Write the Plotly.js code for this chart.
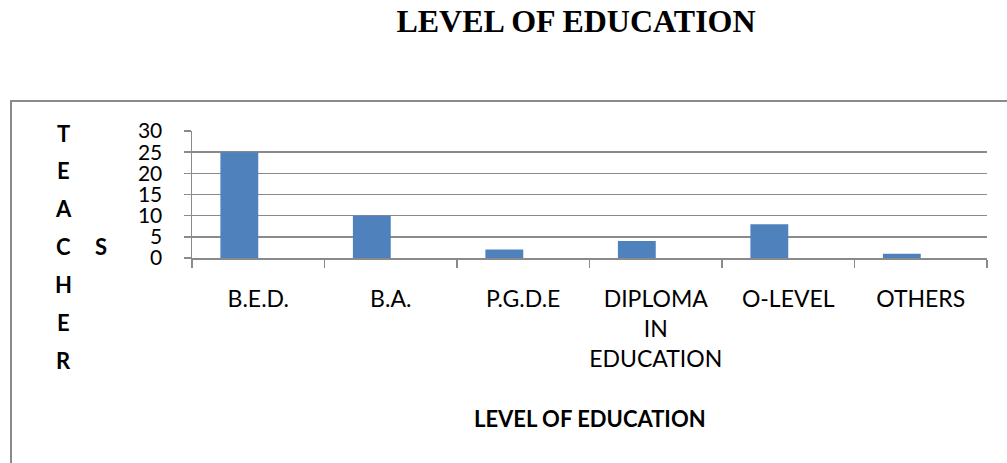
<!DOCTYPE html>
<html>
<head>
<meta charset="utf-8">
<script src="https://cdn.plot.ly/plotly-3.0.1.min.js"></script>
<style>html,body{margin:0;padding:0;background:#fff;}#chart{width:1007px;height:463px;}</style>
</head>
<body>
<div id="chart"></div>
<script>
var categories = ['B.E.D.', 'B.A.', 'P.G.D.E', 'DIPLOMA IN EDUCATION', 'O-LEVEL', 'OTHERS'];
var tickLabels = ['B.E.D.', 'B.A.', 'P.G.D.E', 'DIPLOMA<br>IN<br>EDUCATION', 'O-LEVEL', 'OTHERS'];
var teachers = [25, 10, 2, 4, 8, 1];
var yTicks = [0, 5, 10, 15, 20, 25, 30];
var chartTitle = 'LEVEL OF EDUCATION';
var xTitle = 'LEVEL OF EDUCATION';
var yLetters = ['T', 'E', 'A', 'C', 'H', 'E', 'R'];
var yLetterExtra = 'S';

var W = 1007, H = 463;
var L = 192, R = 20, T = 131, B = 205;
var pw = W - L - R, ph = H - T - B;
function px(x) { return (x - L) / pw; }
function py(y) { return (H - B - y) / ph; }

var gray = '#8a8a8a';
var letterFont = {family: 'Lato', size: 22, color: '#000', weight: 'bold'};
var annotations = [];
yLetters.forEach(function (ch, i) {
  annotations.push({
    xref: 'paper', yref: 'paper', x: px(63), y: py(133 + 37.9 * i),
    xanchor: 'center', yanchor: 'middle', showarrow: false, text: '<b>' + ch + '</b>',
    font: letterFont
  });
});
annotations.push({
  xref: 'paper', yref: 'paper', x: px(101), y: py(246),
  xanchor: 'center', yanchor: 'middle', showarrow: false, text: '<b>' + yLetterExtra + '</b>',
  font: letterFont
});
annotations.push({
  xref: 'paper', yref: 'paper', x: 0.5, y: py(418),
  xanchor: 'center', yanchor: 'middle', showarrow: false, text: '<b>' + xTitle + '</b>',
  font: {family: 'Lato', size: 22, color: '#000'}
});

var trace = {
  type: 'bar',
  x: categories,
  y: teachers,
  width: 1 / 3.5,
  offset: -1 / 3.5,
  marker: {color: '#4F81BD', line: {width: 0}},
  hoverinfo: 'x+y'
};

var layout = {
  width: W, height: H,
  margin: {l: L, r: R, t: T, b: B, pad: 0},
  paper_bgcolor: '#fff', plot_bgcolor: '#fff',
  showlegend: false,
  title: {
    text: '<b>' + chartTitle + '</b>', xref: 'container', yref: 'container',
    x: 576 / W, y: 1 - 21 / H, xanchor: 'center', yanchor: 'middle',
    font: {family: 'Liberation Serif', size: 32, color: '#000'}
  },
  xaxis: {
    type: 'category',
    tickvals: categories, ticktext: tickLabels,
    tickson: 'boundaries', tickangle: 0,
    ticks: 'outside', ticklen: 8, tickwidth: 1.5, tickcolor: gray,
    showline: true, linecolor: gray, linewidth: 1.5,
    showgrid: false, zeroline: false,
    tickfont: {family: 'Lato', size: 23, color: '#000'},
    ticklabelstandoff: 20,
    fixedrange: true
  },
  yaxis: {
    range: [0, 30],
    tickvals: yTicks,
    ticks: 'outside', ticklen: 7, tickwidth: 1.5, tickcolor: gray,
    showline: true, linecolor: gray, linewidth: 1.5,
    showgrid: true, gridcolor: gray, gridwidth: 1.5,
    zeroline: false,
    tickfont: {family: 'Lato', size: 21, color: '#000'},
    ticklabelstandoff: 17,
    fixedrange: true
  },
  shapes: [{
    type: 'rect', xref: 'paper', yref: 'paper',
    x0: px(11), x1: px(1015), y0: py(600), y1: py(101),
    line: {color: gray, width: 2}, fillcolor: 'rgba(0,0,0,0)', layer: 'below'
  }],
  annotations: annotations
};

Plotly.newPlot('chart', [trace], layout, {displayModeBar: false, staticPlot: true});
</script>
</body>
</html>
